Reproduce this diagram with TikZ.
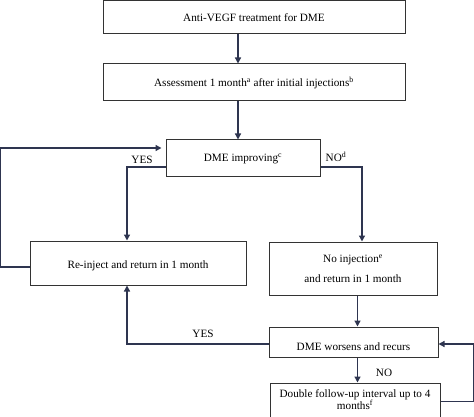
\documentclass[tikz,border=0pt]{standalone}
\usepackage{fontspec}
\setmainfont{Liberation Serif}
\usetikzlibrary{arrows.meta}
\definecolor{arrcol}{HTML}{2E3550}
\definecolor{boxcol}{HTML}{333333}
\begin{document}
\begin{tikzpicture}[x=1pt,y=-1pt,
  box/.style={draw=boxcol,line width=1pt,minimum height=#1,inner sep=0pt,align=center,font=\fontsize{11.2}{13}\selectfont},
  box/.default=33pt,
  arr/.style={draw=arrcol,line width=1.3pt,-{Triangle[length=6pt,width=6pt]}},
  ln/.style={draw=arrcol,line width=1.3pt},
  lab/.style={font=\fontsize{11.2}{13}\selectfont,inner sep=0pt}]
\useasboundingbox (0,0) rectangle (474,417);
\node[box=33pt,minimum width=302pt] (b1) at (254,17.5) {Anti-VEGF treatment for DME};
\node[box=37pt,minimum width=302pt] (b2) at (254,82.5) {Assessment 1 month\textsuperscript{a} after initial injections\textsuperscript{b}};
\node[box=37pt,minimum width=154pt] (b3) at (243,158.5) {DME improving\textsuperscript{c}};
\node[box=44pt,minimum width=216pt,text height=10pt,text depth=0pt] (b4) at (138,263) {Re-inject and return in 1 month};
\node[box=53pt,minimum width=168pt] (b5) at (353,268.5) {No injection\textsuperscript{e}\\[7pt]and return in 1 month};
\node[box=30pt,minimum width=169pt,text height=17.5pt,text depth=0pt] (b6) at (353.5,342) {DME worsens and recurs};
\node[box=34pt,minimum width=170pt,font=\fontsize{11.2}{12}\selectfont] (b7) at (355,400) {Double follow-up interval up to 4\\months\textsuperscript{f}};
\coordinate (xl) at (127,0);
\coordinate (xr) at (362,0);
\coordinate (xm) at (357.5,0);
\coordinate (xt) at (238,0);
\draw[arr] (xt |- b1.south) -- (xt |- b2.north);
\draw[arr] (xt |- b2.south) -- (xt |- b3.north);
\draw[arr] ([yshift=-8.5pt]b3.west) -| (xl |- b4.north);
\draw[arr] ([yshift=-8.5pt]b3.east) -| (xr |- b5.north);
\draw[arr] ([yshift=-4pt]b4.west) -- ++(-29,0) |- ([yshift=10.5pt,xshift=-4pt]b3.west);
\draw[arr] (xm |- b5.south) -- (xm |- b6.north);
\draw[arr] ([yshift=-2pt]b6.west) -| (xl |- b4.south);
\draw[arr] (xm |- b6.south) -- (xm |- b7.north);
\draw[arr] ([yshift=-1.5pt]b7.east) -- ++(33,0) |- ([yshift=-2pt]b6.east);
\node[lab] (yes1) at (142,160) {YES};
\node[lab] (no1) at (336,157) {NO\textsuperscript{d}};
\node[lab] (yes2) at (203,334) {YES};
\node[lab] (no2) at (384,373) {NO};
\end{tikzpicture}
\end{document}
